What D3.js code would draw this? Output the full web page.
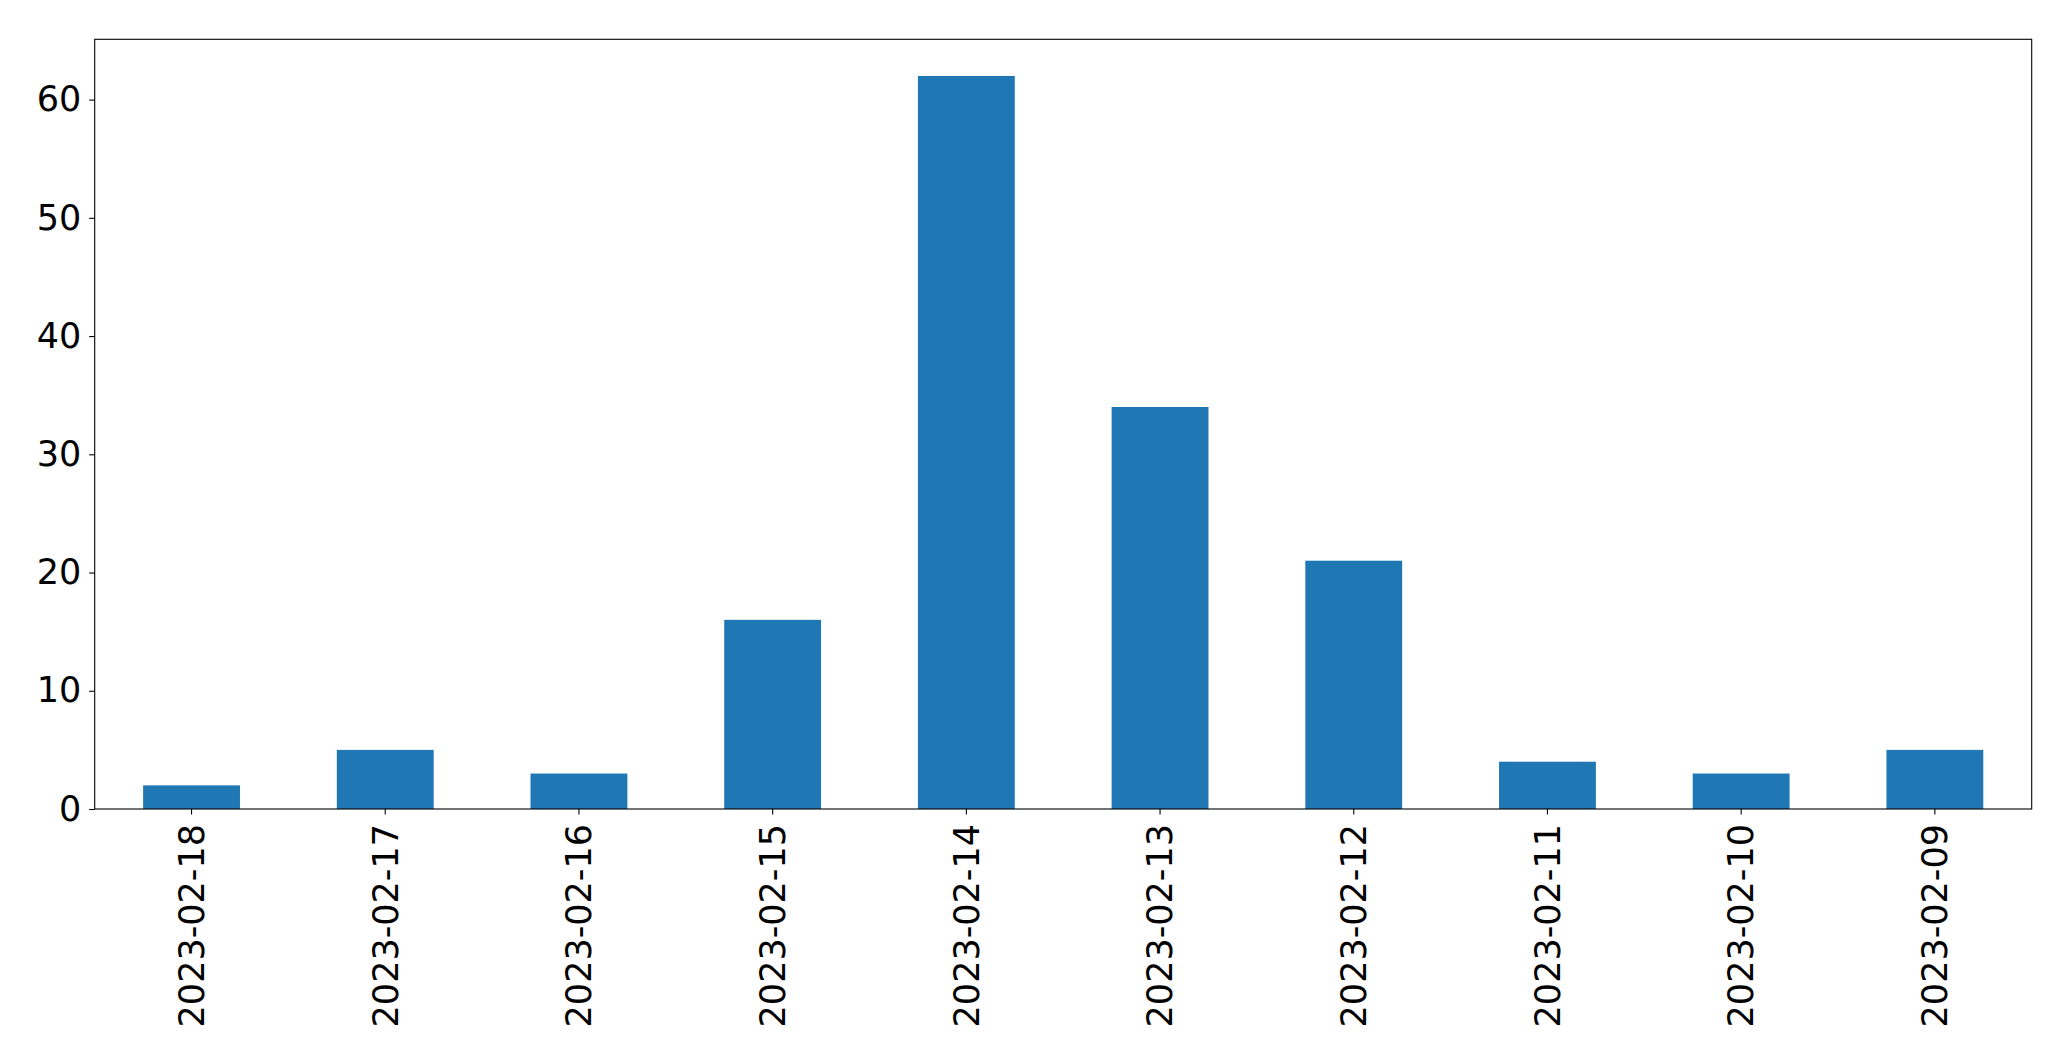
<!DOCTYPE html>
<html><head><meta charset="utf-8">
<script src="https://cdn.jsdelivr.net/npm/d3@7"></script>
<style>html,body{margin:0;padding:0;background:#fff;}svg{display:block;}</style>
</head><body>
<script>
const categories = ["2023-02-18","2023-02-17","2023-02-16","2023-02-15","2023-02-14","2023-02-13","2023-02-12","2023-02-11","2023-02-10","2023-02-09"];
const values = [2,5,3,16,62,34,21,4,3,5];
const yTicks = [0,10,20,30,40,50,60];

const W = 2071, H = 1061;
const m = {left: 94.7, top: 39.3, right: 2071 - 2031.7, bottom: 1061 - 809};
const iw = W - m.left - m.right, ih = H - m.top - m.bottom;
const svg = d3.select("body").append("svg").attr("width", W).attr("height", H);
const g = svg.append("g").attr("transform", `translate(${m.left},${m.top})`);

const x = d3.scaleBand().domain(categories).range([0, iw]).paddingInner(0.5).paddingOuter(0.25);
const y = d3.scaleLinear().domain([0, d3.max(values) * 1.05]).range([ih, 0]);

g.selectAll("rect.bar").data(values).enter().append("rect")
  .attr("class","bar")
  .attr("x", (d,i) => x(categories[i]))
  .attr("width", x.bandwidth())
  .attr("y", d => y(d))
  .attr("height", d => ih - y(d))
  .attr("fill", "#1f77b4");

const font = "'DejaVu Sans', sans-serif";
const fs = 35;

const ya = g.append("g").call(d3.axisLeft(y).tickValues(yTicks).tickSize(5.5).tickPadding(8).tickFormat(d3.format("d")));
ya.select(".domain").remove();
ya.selectAll("line").attr("stroke","#000").attr("stroke-width",1.1);
ya.selectAll("text").attr("font-family",font).attr("font-size",fs).attr("fill","#000");

const xa = g.append("g").attr("transform",`translate(0,${ih})`).call(d3.axisBottom(x).tickSize(5.5).tickPadding(0));
xa.select(".domain").remove();
xa.selectAll("line").attr("stroke","#000").attr("stroke-width",1.1);
xa.selectAll("text").attr("font-family",font).attr("font-size",fs).attr("fill","#000")
  .attr("transform","rotate(-90)")
  .attr("x",-15).attr("y",0).attr("dy","0.35em")
  .attr("text-anchor","end");

g.append("rect").attr("x",0).attr("y",0).attr("width",iw).attr("height",ih)
  .attr("fill","none").attr("stroke","#000").attr("stroke-width",1.1);
</script>
</body></html>
